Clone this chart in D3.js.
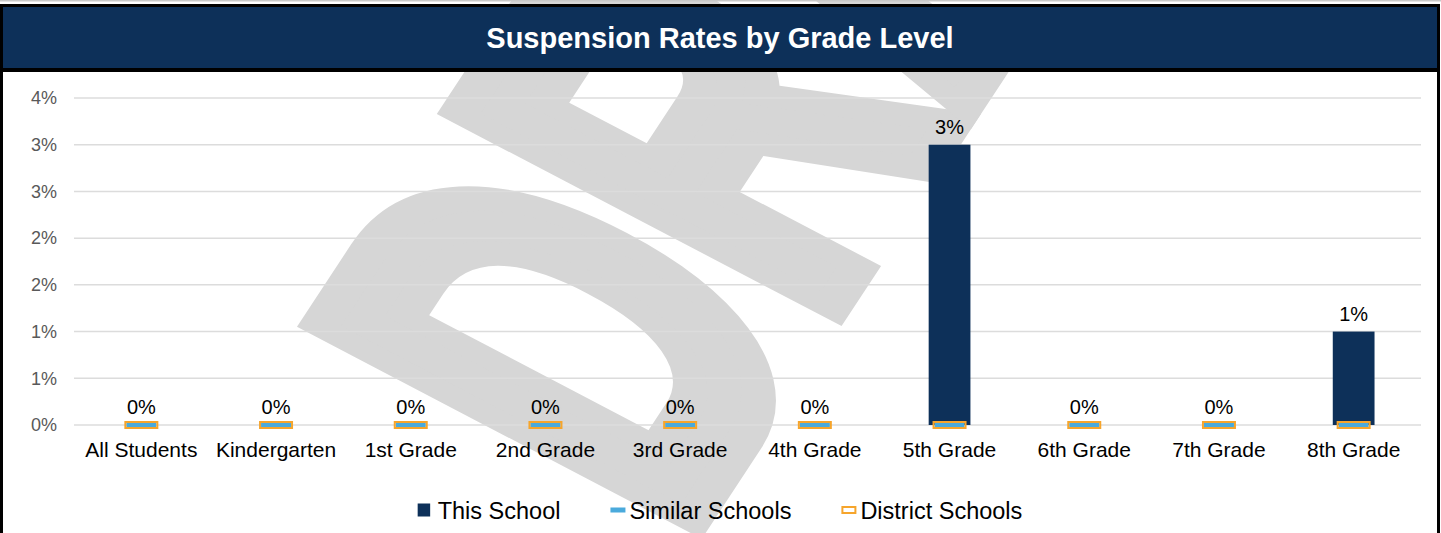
<!DOCTYPE html>
<html>
<head>
<meta charset="utf-8">
<script src="https://cdn.jsdelivr.net/npm/d3@7"></script>
<style>
  html, body { margin: 0; padding: 0; background: #fff; overflow: hidden; }
  svg { display: block; font-family: "Liberation Sans", Arial, sans-serif; }
</style>
</head>
<body>
<div id="chart"></div>
<script>
// DATA
const CATEGORIES = ["All Students", "Kindergarten", "1st Grade", "2nd Grade", "3rd Grade",
                    "4th Grade", "5th Grade", "6th Grade", "7th Grade", "8th Grade"];
const THIS_SCHOOL = [0, 0, 0, 0, 0, 0, 3, 0, 0, 1];
const SIMILAR_SCHOOLS = [0, 0, 0, 0, 0, 0, 0, 0, 0, 0];
const DISTRICT_SCHOOLS = [0, 0, 0, 0, 0, 0, 0, 0, 0, 0];
const Y_TICKS = [0, 0.5, 1, 1.5, 2, 2.5, 3, 3.5];
const Y_TICK_LABELS = ["0%", "1%", "1%", "2%", "2%", "3%", "3%", "4%"];
const SERIES_NAMES = ["This School", "Similar Schools", "District Schools"];

const TITLE = "Suspension Rates by Grade Level";
const NAVY = "#0d3059";
const BLUE = "#4aaadc";
const ORANGE = "#f6a52c";

const WIDTH = 1441, HEIGHT = 533;
const PLOT = {left: 74, right: 1421, top: 98, bottom: 425};

const SVG = d3.select("#chart").append("svg")
  .attr("width", WIDTH)
  .attr("height", HEIGHT);

SVG.append("rect").attr("width", WIDTH).attr("height", HEIGHT).attr("fill", "#fff");

// WATERMARK (condensed heavy text, rotated)
SVG.append("text")
  .text("DRAFT")
  .attr("transform", "matrix(1.936,-2.946,5.412,2.835,678.4,541.2)")
  .attr("font-size", 100)
  .attr("font-weight", "bold")
  .attr("fill", "#d6d6d6")
  .attr("stroke", "#d6d6d6")
  .attr("stroke-width", 6);

// SCALES
const X = d3.scaleBand()
  .domain(CATEGORIES)
  .range([PLOT.left, PLOT.right])
  .paddingInner(0.69)
  .paddingOuter(0.345);

const Y = d3.scaleLinear()
  .domain([0, 3.5])
  .range([PLOT.bottom, PLOT.top]);

const cx = d => X(d) + X.bandwidth() / 2;

// GRIDLINES
SVG.append("g")
  .selectAll("line")
  .data(Y_TICKS)
  .join("line")
  .attr("x1", PLOT.left)
  .attr("x2", PLOT.right)
  .attr("y1", d => Y(d))
  .attr("y2", d => Y(d))
  .attr("stroke", "#dcdcdc")
  .attr("stroke-width", 1.5);

// AXES
const yAxis = SVG.append("g")
  .attr("transform", `translate(${PLOT.left},0)`)
  .call(d3.axisLeft(Y).tickValues(Y_TICKS).tickFormat((d, i) => Y_TICK_LABELS[i]).tickSize(0).tickPadding(17));
yAxis.select(".domain").remove();
yAxis.selectAll("text")
  .attr("font-family", null)
  .attr("font-size", 18)
  .attr("fill", "#595959");

const xAxis = SVG.append("g")
  .attr("transform", `translate(0,${PLOT.bottom})`)
  .call(d3.axisBottom(X).tickSize(0).tickPadding(17));
xAxis.select(".domain").remove();
xAxis.selectAll("text")
  .attr("font-family", null)
  .attr("font-size", 21)
  .attr("fill", "#000");

// BARS
SVG.append("g")
  .selectAll("rect")
  .data(CATEGORIES)
  .join("rect")
  .attr("x", d => X(d))
  .attr("width", X.bandwidth())
  .attr("y", (d, i) => Y(THIS_SCHOOL[i]))
  .attr("height", (d, i) => Y(0) - Y(THIS_SCHOOL[i]))
  .attr("fill", NAVY);

// MARKERS
SVG.append("g")
  .selectAll("rect")
  .data(CATEGORIES)
  .join("rect")
  .attr("x", d => cx(d) - 15)
  .attr("y", (d, i) => Y(SIMILAR_SCHOOLS[i]) - 2.5)
  .attr("width", 30)
  .attr("height", 5)
  .attr("fill", BLUE);

SVG.append("g")
  .selectAll("rect")
  .data(CATEGORIES)
  .join("rect")
  .attr("x", d => cx(d) - 16)
  .attr("y", (d, i) => Y(DISTRICT_SCHOOLS[i]) - 3)
  .attr("width", 32)
  .attr("height", 6)
  .attr("fill", "none")
  .attr("stroke", ORANGE)
  .attr("stroke-width", 2);

// DATA LABELS
SVG.append("g")
  .selectAll("text")
  .data(CATEGORIES)
  .join("text")
  .attr("x", d => cx(d))
  .attr("y", (d, i) => Y(THIS_SCHOOL[i]) - 11)
  .attr("text-anchor", "middle")
  .attr("font-size", 20)
  .attr("fill", "#000")
  .text((d, i) => Math.round(THIS_SCHOOL[i]) + "%");

// LEGEND
const LEGEND = SVG.append("g");
const LEGEND_Y = 510;
let lx = 0;
SERIES_NAMES.forEach((name, i) => {
  const item = LEGEND.append("g").attr("transform", `translate(${lx},0)`);
  let tx;
  if (i === 0) {
    item.append("rect").attr("x", 0).attr("y", LEGEND_Y - 6.5).attr("width", 12.5).attr("height", 13).attr("fill", NAVY);
    tx = 20;
  } else if (i === 1) {
    item.append("rect").attr("x", 0).attr("y", LEGEND_Y - 2.5).attr("width", 15).attr("height", 5).attr("fill", BLUE);
    tx = 19;
  } else {
    item.append("rect").attr("x", 1).attr("y", LEGEND_Y - 3).attr("width", 13).attr("height", 6)
      .attr("fill", "#fff").attr("stroke", ORANGE).attr("stroke-width", 2);
    tx = 19;
  }
  const t = item.append("text")
    .attr("x", tx)
    .attr("y", LEGEND_Y + 8.5)
    .attr("font-size", 23.5)
    .attr("fill", "#000")
    .text(name);
  lx += tx + t.node().getComputedTextLength() + 50;
});
const legendWidth = lx - 50;
LEGEND.attr("transform", `translate(${720 - legendWidth / 2},0)`);

// FRAME AND TITLE
SVG.append("rect").attr("x", 0).attr("y", 0).attr("width", WIDTH).attr("height", 1.5).attr("fill", "#c8c8c8");
SVG.append("rect").attr("x", 0).attr("y", 4).attr("width", 1440).attr("height", 68).attr("fill", "#000");
SVG.append("rect").attr("x", 3).attr("y", 7).attr("width", 1434).attr("height", 61).attr("fill", NAVY);
SVG.append("rect").attr("x", 0).attr("y", 4).attr("width", 3).attr("height", HEIGHT).attr("fill", "#000");
SVG.append("rect").attr("x", 1437).attr("y", 4).attr("width", 3).attr("height", HEIGHT).attr("fill", "#000");

SVG.append("text")
  .attr("x", 720)
  .attr("y", 48)
  .attr("text-anchor", "middle")
  .attr("font-size", 29)
  .attr("font-weight", "bold")
  .attr("fill", "#fff")
  .text(TITLE);
</script>
</body>
</html>
